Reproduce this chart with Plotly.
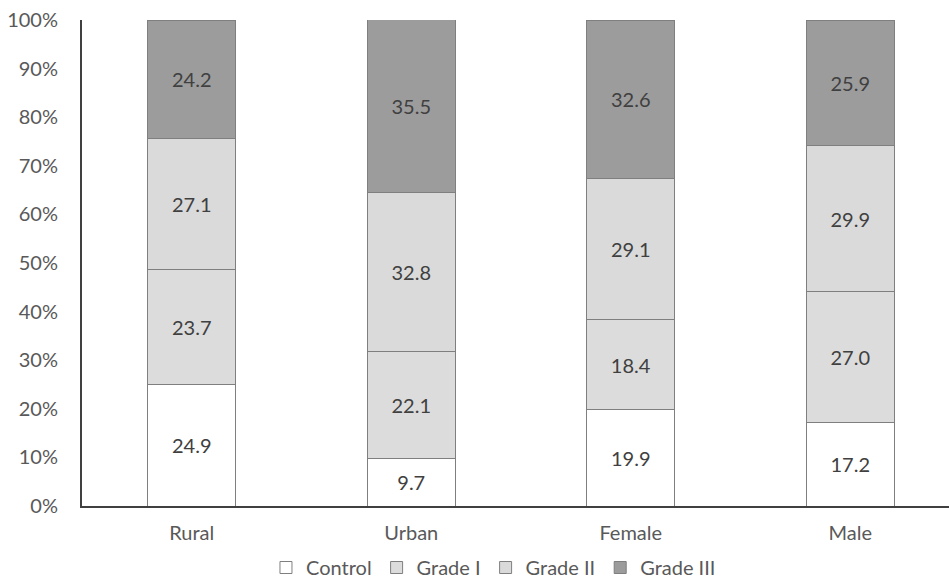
import plotly.graph_objects as go

categories = ["Rural", "Urban", "Female", "Male"]
control = [24.9, 9.7, 19.9, 17.2]
grade1 = [23.7, 22.1, 18.4, 27.0]
grade2 = [27.1, 32.8, 29.1, 29.9]
grade3 = [24.2, 35.5, 32.6, 25.9]
series_names = ["Control", "Grade I", "Grade II", "Grade III"]
tick_vals = [0, 10, 20, 30, 40, 50, 60, 70, 80, 90, 100]
tick_text = [f"{v}%" for v in tick_vals]

colors = ["#ffffff", "#dcdcdc", "#dadada", "#9c9c9c"]
font_family = "Lato, Open Sans, sans-serif"

fig = go.Figure()
for name, vals, col in zip(series_names, [control, grade1, grade2, grade3], colors):
    fig.add_trace(go.Bar(
        x=categories, y=vals, name=name,
        marker=dict(color=col, line=dict(color="#7f7f7f", width=1)),
        width=0.4,
        text=[f"{v:.1f}" for v in vals],
        textposition="inside", insidetextanchor="middle",
        textfont=dict(color="#404040", size=20, family=font_family),
        constraintext="none",
    ))

fig.update_layout(
    barmode="stack",
    width=949, height=587,
    margin=dict(l=82, r=0, t=20, b=81, autoexpand=False),
    paper_bgcolor="white", plot_bgcolor="white",
    font=dict(family=font_family, color="#595959", size=20),
    showlegend=True,
    legend=dict(orientation="h", x=0.52, xanchor="center", xref="container",
                y=-0.013, yanchor="bottom", yref="container",
                font=dict(size=20, color="#595959"), traceorder="normal",
                itemwidth=30, tracegroupgap=0),
    uniformtext=dict(mode=False),
)
fig.update_xaxes(range=[-0.5, 3.45], showline=True, linecolor="#404040", linewidth=2,
                 ticks="", showgrid=False, tickfont=dict(size=20, color="#595959"),
                 ticklabelstandoff=8)
fig.update_yaxes(range=[0, 100], tickvals=tick_vals, ticktext=tick_text, showline=True,
                 linecolor="#404040", linewidth=2, ticks="", showgrid=False, zeroline=False,
                 tickfont=dict(size=20, color="#595959"), ticklabelstandoff=18)

fig.write_html("out.html")
